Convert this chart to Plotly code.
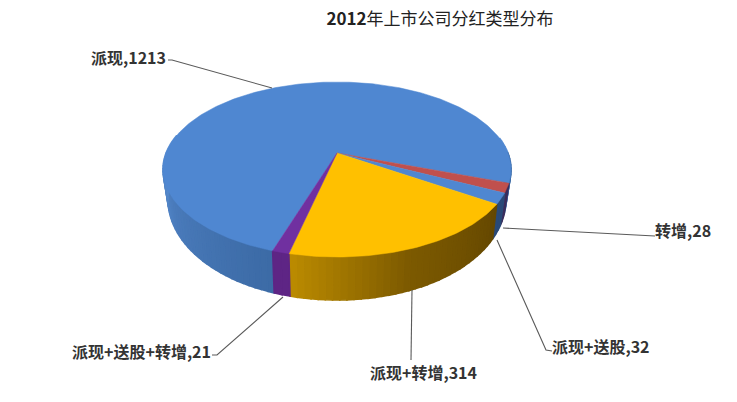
import math
import numpy as np
import plotly.graph_objects as go

title_year = "2012"
title_rest = "年上市公司分红类型分布"
categories = ["派现", "转增", "派现+送股", "派现+转增", "派现+送股+转增"]
values = [1213, 28, 32, 314, 21]
top_colors = ["#4f87d1", "#c0504d", "#4f87d1", "#ffc000", "#7030a0"]
wall_colors = [
    [(108, "#3c6ba6"), (150, "#4a7bbb"), (185, "#5c90d4"), (360, "#5c90d4")],
    [(0, "#3a2d5c"), (360, "#3a2d5c")],
    [(0, "#2a4a78"), (360, "#2a4a78")],
    [(33, "#654800"), (70, "#7d5a00"), (103, "#bc8c00")],
    [(0, "#5e2585"), (360, "#5e2585")],
]
label_pos = [(168, 57, "right"), (653, 230, "left"), (550, 346, "left"),
             (368, 372, "left"), (213, 351, "right")]
leaders = [
    [(168, 60), (172, 60), (272, 88)],
    [(503, 228), (652, 236), (655, 236)],
    [(497, 240), (546, 350), (552, 351)],
    [(412, 290), (411, 360)],
    [(283, 297), (217, 355), (212, 355)],
]

APEX_X, APEX_Y = 337, 153
A, B, K = 84.4, 170.9, 0.1886
START = 108.0


def rim(t):
    t = np.radians(t)
    c, s = np.cos(t), np.sin(t)
    return APEX_X + B * c / (1 - K * s), APEX_Y + A * s / (1 - K * s)


def lower(t):
    x, y = rim(t)
    r = np.radians(t)
    c, s = np.cos(r), np.sin(r)
    return x - 5 * c, y + 25 + 18 * np.maximum(s, 0) + 6 * np.minimum(s, 0)


def shade(stops, t):
    ts = [p[0] for p in stops]
    rgb = [[int(p[1][i:i + 2], 16) for i in (1, 3, 5)] for p in stops]
    return "rgb(%d,%d,%d)" % tuple(np.interp(t, ts, [q[j] for q in rgb]) for j in range(3))


total = sum(values)
edges = [START]
for v in values:
    edges.append(edges[-1] + v / total * 360)
edges_list = list(zip(edges[:-1], edges[1:]))

fig = go.Figure()

for i, (a, b) in enumerate(edges_list):
    n = max(int((b - a) / 2), 1)
    steps = np.linspace(a, b, n + 1)
    for u, v in zip(steps[:-1], steps[1:]):
        if math.sin(math.radians((u + v) / 2)) < -0.2:
            continue
        mid = ((u + v) / 2) % 360
        xs1, ys1 = rim(np.array([u, v]))
        xs2, ys2 = lower(np.array([v, u]))
        colour = shade(wall_colors[i], mid)
        fig.add_trace(go.Scatter(
            x=list(xs1) + list(xs2) + [xs1[0]], y=list(ys1) + list(ys2) + [ys1[0]],
            mode="lines", fill="toself", fillcolor=colour,
            line=dict(color=colour, width=1.6), hoverinfo="skip", showlegend=False))

for i, (a, b) in enumerate(edges_list):
    ts = np.linspace(a, b, max(int(b - a), 4) + 1)
    xs, ys = rim(ts)
    fig.add_trace(go.Scatter(
        x=[APEX_X] + list(xs) + [APEX_X], y=[APEX_Y] + list(ys) + [APEX_Y],
        mode="lines", fill="toself", fillcolor=top_colors[i],
        line=dict(color=top_colors[i], width=0.5),
        name=categories[i], text=f"{categories[i]}, {values[i]}", hoverinfo="text",
        showlegend=False))

for pts in leaders:
    fig.add_trace(go.Scatter(x=[p[0] for p in pts], y=[p[1] for p in pts], mode="lines",
                             line=dict(color="#5a5a5a", width=1.1), hoverinfo="skip",
                             showlegend=False))

for cat, val, (x, y, anchor) in zip(categories, values, label_pos):
    fig.add_annotation(x=x, y=y, text=f"<b>{cat},{val}</b>", showarrow=False, xanchor=anchor,
                       yanchor="middle", font=dict(size=16, color="#333333", family="Noto Sans CJK SC"))

fig.update_layout(
    width=737, height=402, margin=dict(l=0, r=0, t=0, b=0),
    paper_bgcolor="white", plot_bgcolor="white",
    title=dict(text=f"<b>{title_year}</b>{title_rest}", x=440 / 737, y=1 - 19 / 402, xanchor="center",
               yanchor="middle", font=dict(size=17, color="#222222", family="Noto Sans CJK SC")),
    xaxis=dict(range=[0, 737], visible=False, fixedrange=True),
    yaxis=dict(range=[402, 0], visible=False, fixedrange=True),
)
fig.write_html("out.html", config=dict(displayModeBar=False),
               post_script="document.body.style.margin='0';document.body.style.overflow='hidden';")
